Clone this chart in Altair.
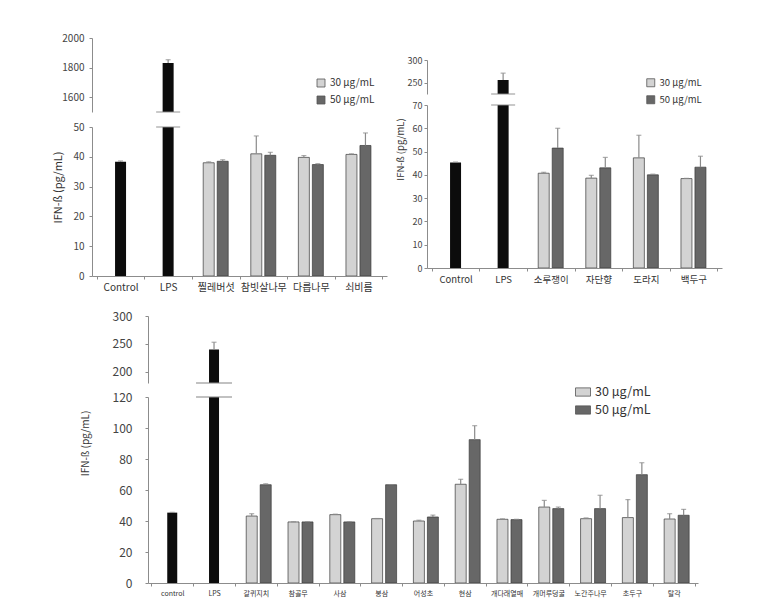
import altair as alt
import pandas as pd

FONT = "Noto Sans CJK KR"
S30, S50 = "30 μg/mL", "50 μg/mL"
LIGHT, DARK, BLACK, ERR, AXC = "#d3d3d3", "#676767", "#0c0c0c", "#8a8a8a", "#8c8c8c"
TITLE = "IFN-ß (pg/mL)"

# ---------------- top-left panel ----------------
tl_cats = ["Control", "LPS", "찔레버섯", "참빗살나무", "다릅나무", "쇠비름"]
tl_single_vals = [38.3, 1831]
tl_single_err = [0.3, 22]
tl_30_vals = [38.0, 41.0, 39.8, 40.8]
tl_30_err = [0.3, 6.0, 0.6, 0.2]
tl_50_vals = [38.5, 40.5, 37.4, 43.8]
tl_50_err = [0.5, 1.0, 0.3, 4.2]

# ---------------- top-right panel ----------------
tr_cats = ["Control", "LPS", "소루쟁이", "자단향", "도라지", "백두구"]
tr_single_vals = [45.3, 256]
tr_single_err = [0.2, 15]
tr_30_vals = [40.7, 38.6, 47.3, 38.4]
tr_30_err = [0.4, 1.2, 9.7, 0.1]
tr_50_vals = [51.5, 43.0, 40.0, 43.3]
tr_50_err = [8.5, 4.5, 0.3, 4.7]

# ---------------- bottom panel ----------------
b_cats = ["control", "LPS", "갈퀴지치", "참골무", "사삼", "봉삼", "어성초", "현삼",
          "개다래열매", "개머루덩굴", "노간주나무", "초두구", "탈각"]
b_single_vals = [45.4, 240]
b_single_err = [0.2, 13]
b_30_vals = [43.2, 39.4, 44.1, 41.5, 40.0, 63.7, 41.1, 49.0, 41.5, 42.2, 41.3]
b_30_err = [1.5, 0.1, 0.3, 0.1, 0.5, 3.2, 0.3, 4.3, 0.5, 11.6, 3.4]
b_50_vals = [63.4, 39.4, 39.4, 63.4, 42.6, 92.5, 40.9, 48.0, 48.0, 69.9, 43.7]
b_50_err = [0.6, 0.1, 0.1, 0.1, 1.2, 9.0, 0.2, 1.0, 8.6, 7.7, 3.8]


def tables(cats, sv, se, v30, e30, v50, e50):
    single = pd.DataFrame({"cat": cats[:2], "value": sv,
                           "top": [v + e for v, e in zip(sv, se)], "base": 0.0})
    rows = []
    for c, v, e in zip(cats[2:], v30, e30):
        rows.append({"cat": c, "series": S30, "value": v, "top": v + e, "base": 0.0})
    for c, v, e in zip(cats[2:], v50, e50):
        rows.append({"cat": c, "series": S50, "value": v, "top": v + e, "base": 0.0})
    return single, pd.DataFrame(rows)


def section(p, single, group, lower, legend):
    dom = p["lo_dom"] if lower else p["up_dom"]
    ticks = p["lo_ticks"] if lower else p["up_ticks"]
    h = p["lo_h"] if lower else p["up_h"]
    xs = alt.Scale(domain=p["cats"], paddingInner=0, paddingOuter=p["po"])
    if lower:
        xa = alt.Axis(title=None, labelAngle=0, labelFontSize=p["xfs"], labelColor="#333",
                      labelPadding=3, domainColor=AXC, tickColor=AXC, tickSize=3,
                      tickBand="extent", labelFont=FONT)
        ya = alt.Axis(values=ticks, title=TITLE, grid=False, domainColor=AXC, tickColor=AXC,
                      tickSize=3, labelFontSize=p["yfs"], labelColor="#444", format="d",
                      labelPadding=p["ylp"], labelFont=FONT, titleFont=FONT,
                      titleFontSize=p["tfs"], titleFontWeight="normal", titleColor="#333",
                      titlePadding=p["tpad"], titleY=p["ty"])
    else:
        xa = None
        ya = alt.Axis(values=ticks, title=None, grid=False, domainColor=AXC, tickColor=AXC,
                      tickSize=3, labelFontSize=p["yfs"], labelColor="#444", format="d",
                      labelPadding=p["ylp"], labelFont=FONT)
    X = alt.X("cat:N", scale=xs, axis=xa, sort=p["cats"])
    ys = alt.Scale(domain=dom, nice=False, zero=False)

    def Y(f):
        return alt.Y(f"{f}:Q", scale=ys, axis=ya)

    xo = alt.XOffset("series:N", sort=[S30, S50],
                     scale=alt.Scale(domain=[S30, S50], paddingInner=p["opi"], paddingOuter=p["opo"]))
    color = alt.Color("series:N", scale=alt.Scale(domain=[S30, S50], range=[LIGHT, DARK]),
                      legend=legend)
    bars_s = alt.Chart(single).mark_bar(color=BLACK, width=p["bw"], clip=True).encode(
        x=X, y=Y("value"), y2="base:Q")
    bars_g = alt.Chart(group).mark_bar(stroke="#3a3a3a", strokeWidth=0.7, clip=True).encode(
        x=X, xOffset=xo, y=Y("value"), y2="base:Q", color=color)
    err_s = alt.Chart(single).mark_rule(color=ERR, strokeWidth=1.2, clip=True).encode(
        x=X, y=Y("value"), y2="top:Q")
    cap_s = alt.Chart(single).mark_tick(color=ERR, thickness=1.2, size=5, clip=True).encode(
        x=X, y=Y("top"))
    err_g = alt.Chart(group).mark_rule(color=ERR, strokeWidth=1.2, clip=True).encode(
        x=X, xOffset=xo, y=Y("value"), y2="top:Q")
    cap_g = alt.Chart(group).mark_tick(color=ERR, thickness=1.2, size=5, clip=True).encode(
        x=X, xOffset=xo, y=Y("top"))
    edge = dom[1] if lower else dom[0]
    brk = alt.Chart(pd.DataFrame({"cat": ["LPS"], "edge": [edge]})).mark_tick(
        color="#8a8a8a", thickness=1.3, size=p["brw"]).encode(x=X, y=Y("edge"))
    return alt.layer(bars_s, bars_g, err_s, cap_s, err_g, cap_g, brk).properties(
        width=p["w"], height=h)


def legend(x, y, fs, stype, ssize, rowpad):
    return alt.Legend(orient="none", legendX=x, legendY=y, title=None, symbolType=stype,
                      symbolSize=ssize, symbolStrokeColor="#555", symbolStrokeWidth=0.8,
                      symbolOpacity=1, labelFont=FONT, labelFontSize=fs, labelColor="#333",
                      rowPadding=rowpad, padding=0, labelOffset=4)


def spacer(w, h):
    return alt.Chart(pd.DataFrame({"s": [0]})).mark_point(opacity=0).encode(
        x=alt.value(0), y=alt.value(0)).properties(width=w, height=h)


RES = dict(color="independent", x="independent", y="independent")

tl_p = dict(cats=tl_cats, po=0.1, w=295, up_dom=[1500, 2000], up_ticks=[1600, 1800, 2000], up_h=74,
            lo_dom=[0, 50], lo_ticks=[0, 10, 20, 30, 40, 50], lo_h=149, xfs=10, yfs=10, ylp=5,
            tfs=11, tpad=9, ty=60, opi=0.214, opo=0.807, bw=11, brw=24)
tr_p = dict(cats=tr_cats, po=0.1, w=295, up_dom=[225, 300], up_ticks=[250, 300], up_h=34,
            lo_dom=[0, 70], lo_ticks=[0, 10, 20, 30, 40, 50, 60, 70], lo_h=163, xfs=9.5, yfs=9,
            ylp=2, tfs=9.5, tpad=7, ty=44, opi=0.17, opo=0.70, bw=11, brw=24)
b_p = dict(cats=b_cats, po=0.08, w=550, up_dom=[180, 300], up_ticks=[200, 250, 300], up_h=67,
           lo_dom=[0, 120], lo_ticks=[0, 20, 40, 60, 80, 100, 120], lo_h=186, xfs=7, yfs=12,
           ylp=13, tfs=10, tpad=22, ty=46, opi=0.167, opo=0.82, bw=10, brw=36)

tl_s, tl_g = tables(tl_cats, tl_single_vals, tl_single_err, tl_30_vals, tl_30_err, tl_50_vals, tl_50_err)
tr_s, tr_g = tables(tr_cats, tr_single_vals, tr_single_err, tr_30_vals, tr_30_err, tr_50_vals, tr_50_err)
b_s, b_g = tables(b_cats, b_single_vals, b_single_err, b_30_vals, b_30_err, b_50_vals, b_50_err)

SQ = "square"
RECT = "M-1,-0.55L1,-0.55L1,0.55L-1,0.55Z"

tl = alt.vconcat(
    section(tl_p, tl_s, tl_g, False, legend(224, 40, 10, SQ, 64, 5)),
    section(tl_p, tl_s, tl_g, True, None),
    spacing=15, bounds="flush").resolve_scale(**RES)

tr = alt.vconcat(
    spacer(1, 11),
    section(tr_p, tr_s, tr_g, False, legend(219, 18, 9.5, SQ, 64, 5)),
    section(tr_p, tr_s, tr_g, True, None),
    spacing=11, bounds="flush").resolve_scale(**RES)

bp = alt.vconcat(
    section(b_p, b_s, b_g, False, None),
    section(b_p, b_s, b_g, True, legend(427, -13, 12.5, RECT, 225, 3)),
    spacing=14, bounds="flush").resolve_scale(**RES)

top_row = alt.hconcat(spacer(28, 1), tl, tr, spacing=8).resolve_scale(**RES)
bottom_row = alt.hconcat(spacer(60, 1), bp, spacing=4).resolve_scale(**RES)

chart = alt.vconcat(top_row, bottom_row, spacing=18).resolve_scale(**RES).properties(
    padding={"left": 5, "top": 25, "right": 5, "bottom": 5}
).configure(font=FONT, background="white").configure_view(strokeWidth=0, stroke="transparent")

chart.save("out.html", embed_options={"renderer": "svg", "actions": False})
